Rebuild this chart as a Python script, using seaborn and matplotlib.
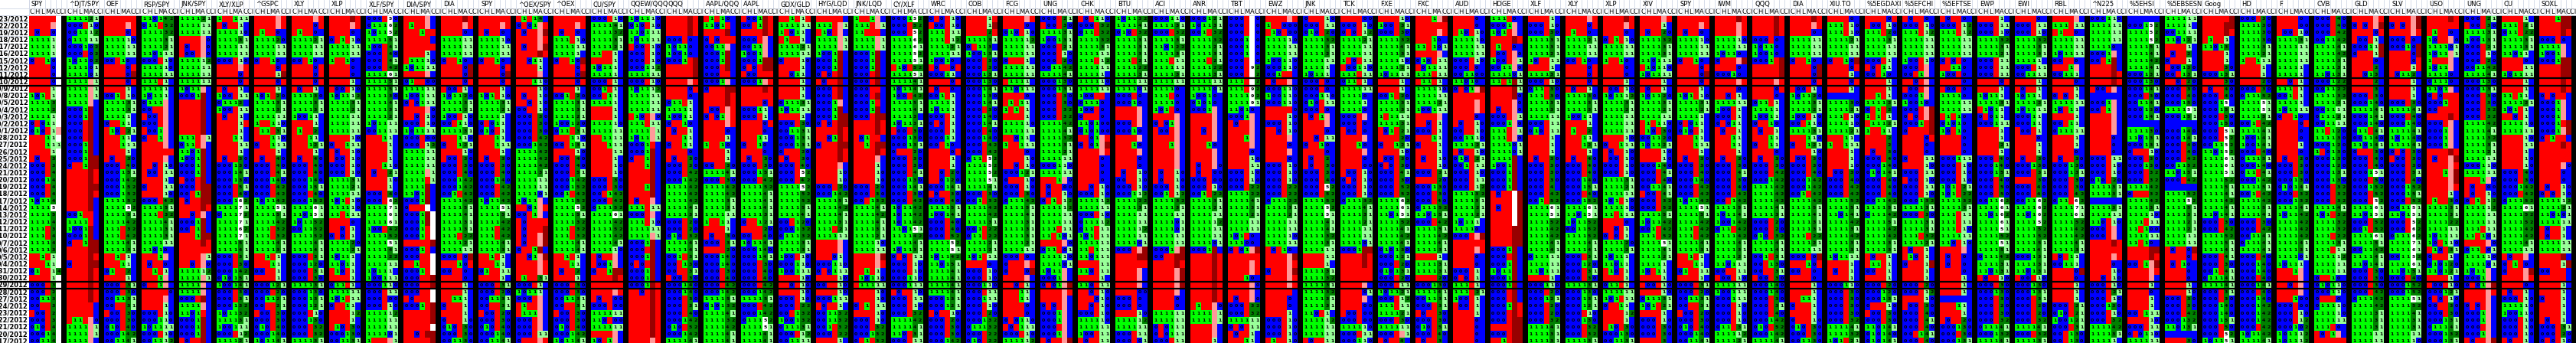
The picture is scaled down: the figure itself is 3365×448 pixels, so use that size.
import numpy as np
import matplotlib
matplotlib.use('Agg')
import matplotlib.pyplot as plt
import matplotlib.transforms as mtransforms
from matplotlib.colors import ListedColormap
import seaborn as sns

# --- dates (rows) ---
dates = ['10/23/2012', '10/22/2012', '10/19/2012', '10/18/2012', '10/17/2012', '10/16/2012',
         '10/15/2012', '10/12/2012', '10/11/2012', '10/10/2012', '10/9/2012', '10/8/2012',
         '10/5/2012', '10/4/2012', '10/3/2012', '10/2/2012', '10/1/2012', '9/28/2012',
         '9/27/2012', '9/26/2012', '9/25/2012', '9/24/2012', '9/21/2012', '9/20/2012',
         '9/19/2012', '9/18/2012', '9/17/2012', '9/14/2012', '9/13/2012', '9/12/2012',
         '9/11/2012', '9/10/2012', '9/7/2012', '9/6/2012', '9/5/2012', '9/4/2012',
         '8/31/2012', '8/30/2012', '8/29/2012', '8/28/2012', '8/27/2012', '8/24/2012',
         '8/23/2012', '8/22/2012', '8/21/2012', '8/20/2012', '8/17/2012']

tickers = ['SPY', '^DJT/SPY', 'OEF', 'RSP/SPY', 'JNK/SPY', 'XLY/XLP', '^GSPC', 'XLY', 'XLP',
           'XLF/SPY', 'DIA/SPY', 'DIA', 'SPY', '^OEX/SPY', '^OEX', 'CU/SPY', 'QQEW/QQQ', 'QQQ',
           'AAPL/QQQ', 'AAPL', 'GDX/GLD', 'HYG/LQD', 'JNK/LQD', 'CY/XLF', 'WRC', 'COB', 'FCG',
           'UNG', 'CHK', 'BTU', 'ACI', 'ANR', 'TBT', 'EWZ', 'JNK', 'TCK', 'FXE', 'FXC', 'AUD',
           'HDGE', 'XLF', 'XLY', 'XLP', 'XIV', 'SPY', 'IWM', 'QQQ', 'DIA', 'XIU.TO', '%5EGDAXI',
           '%5EFCHI', '%5EFTSE', 'EWP', 'EWI', 'RBL', '^N225', '%5EHSI', '%5EBSESN', 'Goog', 'HD',
           'F', 'CVB', 'GLD', 'SLV', 'USO', 'UNG', 'CU', 'SOXL']

sub_cols = ['C', 'H', 'L', 'M', 'A', 'CCI']

# cell codes per row: C H L M A CCI
# 1 = up (green), 0 = blue, x = red, p = pink, r = dark red, w = white, b = blue (no text)
# 2-9 = dark green count, F/S/V/N = highlighted 5/6/7/9
spy_a = """
xxxxxw xxxxpw x0xx0w 11111w 11111w 11111w 0xx10w xxxx0w xxxx0w xxxx0w
xxxx1w 101x1w 11113w 11112w 11111w 0x011w 010x1p xxx11w xxx111 xxxx1w
x0xx3w 000x3w 000x4w 00014w 000x4w 000x4w 10114w 1111Fw 11115w 11114w
111x3w 111x4w 11114w 11113w xx1x1w xxx11w 01xx14 xxxx1w 000x3w 000x2w
00113w 00xx3w x00x2w 000x3w 010x4w 00014w 00114w
"""
djt_spy = """
111121 000x10 001112 011111 000102 000x02 101102 111101 111101 1111p1
1111p1 1111p1 1111pb 0001rb 0001rb 000xrb 000xrb 000xrb 0001rb 0001rb
0001rr 0xx1rr xxxxrx xxxxrx xxxxrr xxxxrx xxxxrb xxxxrb 001xxb 1111xb
1001rb 0001rb 0xx1rr xxxxrr xxxxrx 0xxxrr xxxxrx xxxxrx xxxxrx xxxxrx
xxxxrx xxxxxb xxxxxb x11xp0 1111p1 1111p1 1111pb
"""
oef = """
xxxxxx xxxxpx xxxx0x 111110 111111 111111 00x10b xxxx0x xxxx0r xxxx0x
xxxx1b 001x10 111131 111131 11111b 0xx11b x10x21 xxx11b xxx111 xxxx1b
x0xx30 000x40 000151 000142 000152 000152 111152 1111F2 111151 111142
111x32 111x42 111141 111131 xx1x1b xxx11b 01xx2b xxxx1b 000x31 000x30
001131 00xx31 x00x30 000x30 010x40 000142 001141
"""
rsp_spy = """
110142 011x52 111132 111131 111121 110111 000x10 111110 111111 111x1b
11111b 10111b 0111pb 00xxpb x00xpb 000xpb x001pb 0xx1pb xxxxpb xxxxxx
xxxxpb xx0x10 x00x11 xxxx1b 0xxx11 xxxx10 000x42 111151 111x32 111141
111131 111131 111111 11010b xxx1pb x0xx0b xx1x1b xxx1pb 0xx1pb xxxxx0
xxxxpb xxxx1b 000x10 000110 101111 000x10 001112
"""
jnk_spy = """
111121 111111 111111 xxxxp0 x0xxp0 x00xp0 111112 111111 111111 111111
1011pb 0001rb xxxxrb xxxxrb xxxxrb xxxxrb xxxxrb 111xp1 011xpb 1101rb
1001rb 0001rb 0001rb x00xrb 000xrr 00x1rr x0xxrr xxxxrx xx0xpb 0001rb
00x1rb xxx1rr xxxxrx xxxxxx xxxxp1 xx0xp0 111112 1111p1 1111pb 1111pb
000xrb 1111pb 1101xb 0001rb 0001rb 0001rb x0xxrb
"""
xly_xlp = """
1xx111 x0xx1b 111110 111131 111111 111111 000x10 xxxxpx xxxx0x xxxx0x
x0xx1b 100x11 01112b 100x11 x0xx1b xxxx1x xxxx1b xxx11b xxxx11 xxxx1b
x0xx30 000130 000141 000130 000x51 000x40 0001S2 1111V1 0111V2 1111V1
1111S2 1111V1 111151 111141 000x31 000x30 000142 010151 100141 000x30
000x31 000132 101132 111131 100111 000x12 111121
"""
gspc = """
xxxxpx xxxxpx x1xx0b 111120 111111 111111 0xx10b xxxx0x xxxx1r xxxx0x
xxxx1b 101x20 111131 111131 111111 1xx110 x11x31 xxx110 0xx111 xxxx1b
x0xx40 000x40 000x41 000140 000x42 000x42 101142 1111F1 111151 111142
111x32 111x32 111141 111131 xx1x1b xxx11b 00xx1b xxxx1b 000121 000x20
001121 00xx21 x00x30 000x30 010x40 000140 101141
"""
xly = """
xxxxpx xxxx0x x1xx0b 111121 111111 111111 00x10b xxxx0x xxxx0x xxxx0x
x0xx1b 111130 111131 111131 10011b xxxx1b x1xx2b xxx11b xxx121 xxxx1b
x0xx40 000x40 000x40 000140 000151 000x40 000152 1111S1 1101F1 101152
001152 111152 111141 111141 000x31 000120 000x31 000x30 111131 000130
000131 000121 000x10 000130 000x32 000x32 111131
"""
xlp = """
xxxxrx xxxxpx xxxx0b 0x1x10 111111 111111 1xx10b xxxx0b xxxx0b xxxx1b
x00x10 101112 111131 111121 111111 111111 111111 xxxx10 0xx111 x0xx10
x00x10 000x10 000x10 111131 111121 111111 101x10 111110 11x111 xxxx0b
xx0x1b 0x0x1b 111120 111121 10111b 11011b x10x1b xxxx1b 011x1b 111111
101x11 0xx11b xxxx12 xxxx1b x10x30 000130 001131
"""
xlf_spy = """
000xF0 0111S2 1011F2 111151 100x41 000x40 000x41 000x42 1111S1 111151
111151 111130 111141 111131 111121 101111 001111 xxx11b xxxx1b xxxx1b
xxxx1b xxx110 x0xx21 xxxx10 xxxx1b 000x40 000xS2 1111V1 1111S1 1111S1
100x42 111152 1111F1 111141 111122 111111 10111b 100111 000110 000x11
000x00 000x10 111112 111111 111111 111101 1xxxp1
"""
dia_spy = """
xxxxpb x1xxpb xxx1xx xxxxxb xxxxxx xxxx1b x11110 101111 xxxxpb 01xx00
111111 100111 0x0111 xxxxp0 xx0x10 000x10 101111 000x00 000x12 111111
111111 111111 1111p1 1111x1 1111rb 1101rb 0001rb 0xxxwb 0001rw 0001rw
0001xw 0001xw xxxxxr 0001xb 000xxw xx1xxw 0001xw 000xxr 000xxr 000xxw
x0xxxw 0001xr xxxxxr xxxxxr xxxxxw xx0xrr xxxxxr
"""
dia = """
xxxxrx xxxxpx xxxx0b 111111 111111 111111 0xx10b xxxx0r xxxx0r xxxx0x
x00x1b 101120 111131 111121 100x10 00x110 111131 xxx110 0xx121 xxxx10
x00x30 000x30 000x40 000142 000142 001x42 111142 111151 111141 111131
111131 111x22 111121 111111 000x0r xxx10x 00xx0b xxxx0b xxxx1b xxxx1b
xx111b 0xxx1b xxxx1b 0xxx10 010x30 000x30 001130
"""
spy_b = """
xxxxxx xxxxpx x0xx0b 111110 111111 111111 0xx10b xxxx0x xxxx0r xxxx0x
xxxx1b 101x10 111131 111121 11111b 0x011b 010x1b xxx11b xxx111 xxxx1b
x0xx30 000x30 000x40 000140 000x42 000x42 101142 1111F1 111151 111142
111x42 111x42 111141 111131 xx1x1b xxx11b 01xx11 xxxx1b 000x31 000x20
001131 00xx31 x00x20 000x30 010x40 000140 001141
"""
oex_spy = """
x1x14b 0x01px x0xxpr xxxxpx x0xxpr xxxxrx xx011b xxxx1b xxxxpb xxx110
xxxx10 x0xx10 xx0x10 00xx10 000x30 000x30 000x30 000x42 000142 111142
111142 111142 111131 111111 111111 111101 1011pb xx01px 00x1pb x0xxxx
x0xxxr x0xxpr x0xxpr 0xx1rb xx01pr xxxxpx xxxxpx x1xx31 000x1b 10111b
000xpb x1xxpb x111pb 000xpb 000xpb 000x11 0xxxpx
"""
oex = """
xxxxxx xxxxpx x0xx0b 111x10 111111 11111b 0xx10r xxxx0x xxxx0r xxxx0x
xxxx1b 001x20 111131 111131 111121 100120 011x31 xxx110 00x131 xxxx10
x00x40 000x40 000x51 000142 000152 001x42 111152 1111F2 111151 111132
111x32 111x32 111141 111141 xx1x1b xxx11b x0xx2b xxxx1b 000x30 000x30
001131 00xx31 x00x30 000x30 010x40 000142 101141
"""
cu_spy = """
000x10 111141 111132 111131 111121 11xx1b xxxx1b 10111b 11111b 000x1b
001x1b 00x11b 11111b xxxx1b xxxx1b 111110 111111 xx1111 xxx111 xxxx11
xxxx1b xxxx10 xxxx10 000x30 000x30 00x142 000x42 011152 1111S1 111142
111152 111142 111141 111110 x0xxpb x001pb 0xx1rr xxxxrx xxxxxx xxxxpx
x0xx00 000x00 111111 110x00 111111 xxxxpb 10x1pb
"""
qqew_qqq = """
101110 010x10 110111 101111 x00x10 000x10 000x10 000112 111111 000x10
101112 111111 111111 111111 x10xp0 111x11 1111p1 1011p1 0001xb 0001rb
0xx1rb xxx1rb xxxxrb xxxxrb xxx1rb xxxxrb x0xxpb 111x11 000xpb 111x10
111111 1111p1 0001rb 000xrb 0001rb 0x0xrb 0001rb 0001rb 0001rx xx0xrx
xxxxrx xxxxrx xxxxrx xxxxrx xxxxrx xxxxrx xxxxpx
"""
qqq = """
xxxxrx xxxxrx xxxxrx 000x0b 10110b 10010b 0001xr xxxxxr xxxxxr xxxxpx
xxxx0x xxxx0b 011x1b 11111b 10011b 0xx10b x0xx1b xxx11b 0xx11b xxxx0b
x0xx30 000x30 000x42 000142 111142 111142 111142 111141 111131 000x20
000x20 010x32 111141 111141 001x31 00x130 00xx31 x00x30 000140 000140
000x30 000x31 000x40 000142 010x52 000142 111141
"""
aapl_qqq = """
x1x10b 1101xb xxxxrb 0x0xxx 0011pb 0001rb 0001rb 000xrb 000xxb 0001pb
0xxxrr xxxxrx xxxxrx x00xpx 0x01px xxxxpx xxxx0b xxxx1b 1xx10b xxxx1b
xxxx1b 00xx30 111141 000x30 111142 111142 111131 111131 111111 1xx11b
xxxx1b x0xx30 000x31 xxxx20 000140 000140 000x30 000x40 000x42 000142
111151 010132 111141 111132 111142 111141 111141
"""
aapl = """
x001rx 00x1rx xxxxrx 000xpb 0011pb 1001pb 0001rr 0x0xrr x00xxx 0001px
xxxxrx xxxxxx xxxx0x 00011b 000x1b xxxx0x xxxx0b xxx11b 0xx10b xxxx0b
x0xx30 000x30 000151 000x42 111152 111141 111141 111141 111131 0xx121
xxxx20 00xx40 101141 000140 000141 000x30 000x40 000x40 000x42 000142
111151 000x42 000142 0111F2 1111F1 111141 111141
"""
gdx_gld = """
xx1x1x 111111 1x011b x1xx1b 111121 111111 0xxx10 xxxx1b xx011b xxxx1b
xxxx1b xxxx1b 011131 101111 xxxx1b 000x30 001131 000131 000131 0xxx20
x0xx30 000x40 000xF2 000x42 1111F2 111152 111152 111151 111141 00x120
000132 011132 111131 111131 100x10 000110 100111 xxxx10 xx0x10 xxxx10
000x10 000x22 00x132 100132 011131 000x12 001111
"""
hyg_lqd = """
xxxxxb 111xp1 x10xpb 1111p1 1111p1 1001rb 0001rb 0001rb 0x0xrb x0xxrb
000xrb 000xrb 0001pb 0001rb 0001rr 0x0xrr xxxxrx xx01rx 0xxxrr xxxxrx
xxxxrx xxxxpb xxxx10 xxxx10 000x20 000142 111151 111142 111141 111131
111x21 111111 xxxxpb xxxxpb xxx01b 000110 0x0111 xxxx10 00xx10 xxxx10
000111 x0xx1b 001132 001132 001x32 000x22 xxxx1b
"""
jnk_lqd = """
1xx1pb 111xp1 11xxxb 1111p1 1111p1 0001rb 0001rb 0001rb 000xrb 000xrb
000xxb 000xrb 0001xb 0001rb 000xrr xxxxrx xxxxrx x01xxb xx1xrr xxxxrx
xxxxpb xxxx1b xxxx10 xxxx10 000x20 000x30 00x132 111141 111142 111141
111131 111121 111110 111111 xxxxpr xxxxpx xx1x1b x10110 x11111 xxxx10
xxxx10 0x1x11 xxxx10 000x10 000x32 000132 0x1x32
"""
cy_xlf = """
0001F2 000x52 000xF2 1111S2 1111S1 1111F2 1111F1 x10x52 1111F1 111141
101141 100x42 111151 111141 11113b 101131 x00x30 000130 000131 0xxx20
000x30 000x30 000x41 000130 000141 000x30 000x42 101142 101142 101142
1101F1 111142 111141 101131 0x0x11 000x10 000x10 000110 000111 x0xx10
000x11 000x10 000x32 111142 111141 110x31 000x11
"""
wrc = """
0x0x10 x00x10 111x11 111x12 111121 111111 10010b x0xx0x 00011b xxxx0x
x0xx0b 001x1b 11111b 10111b 000x1b 0x0x1b 000x1b 00011b 00x10b xxxx0x
xxxx1b xxxx1b xx0x20 xx0120 000141 x0xx30 000x40 111151 100141 000x40
000x40 000x52 1111F2 1111F1 101142 110151 111141 111141 111141 111141
000131 000121 x0xx10 000x20 000x30 000x30 000142
"""
cob = """
xxxx1x xxxx1r xxxx2x 111131 0x113b 100131 000x30 000x30 000131 000130
000141 000130 000141 000x30 000140 000141 000x40 000140 000x42 000x42
011xF2 1111F2 1111F2 1111F1 111141 000x30 001x32 111142 111142 111131
001x22 011x22 111121 111121 101x11 xxxx0b 000x10 000x10 000110 000x11
000111 000x10 000x20 000132 011132 000x22 010x22
"""
fcg = """
xxxxpx xxxx0b 010x10 111112 111111 111111 0xxx1b 111111 111111 x1111b
110111 xxxx0b x1x11b 1x1x1b xxxx1b 111110 111111 xx011b 1xx111 xxxx0b
xxxx10 xx0x10 000121 0xxx10 000x10 000x30 011142 111151 111141 111131
111131 111131 111121 111111 000x0b 0xxxpx 0xxx0r xxxxpb xx0x1b xxx11b
xxx11b xxxx0b xxxx0b 0x0110 x0x111 000x10 111112
"""
ung = """
000x21 x00x30 111131 100131 000x21 000x10 000x20 001142 111141 000130
000131 000x30 000x30 000x32 000x32 111142 111141 111132 111131 111121
111111 000110 111111 xxx1p0 x0xx00 x0xx10 0x1x12 111112 111111 111111
111x11 11x101 xxxxp0 011x01 111110 111101 1011pb 0001pb 0x01pr xxxxpx
xxxxpb 0x0xpb 0001pb 0001pb 000xpb 0001pb x0xxpr
"""
chk = """
x0x110 000x32 011x32 111132 111131 111111 111x12 111111 11111b 111110
111111 100xxb 01110b 100x0b 0xxx0b 110100 010100 xx01px 0x01pr xxxxpx
xxxx0b xxxx0b xxxx0b xxxx0b xx0x10 000x10 111112 111111 000x10 011112
011x11 101x11 111111 11x111 110111 xxxx11 110x11 xxxx1b 110x11 xx0x10
xxx010 xx0x10 000x10 111110 111111 100x11 x0xx11
"""
btu = """
101132 111141 010x32 111131 111131 111131 111x21 111122 111131 111111
111101 000x0b 00010b xxxxpb xxxxpb 000xpb 00010b xxxxpb xxx10b xxxxpb
xxxx0b xxxx0b x0xx10 00xx10 000x10 000112 111122 111131 111111 111111
111112 111111 111101 000xpr xxxxrr xxxxxx xxxxpb xxxxpb xxxxpb xxxx00
000x0b 000x0b xxxx10 111112 111111 000x11 000x01
"""
aci = """
000110 111131 000x32 111131 110122 111131 111x11 111111 111131 111111
11110b 111x0b 11110b 101x0b xxxxpb 0x01pb x00xpb xxxxpb xxx1pb xxxxpb
xxxxpb xxxxpb x0xx10 x0xx10 000x10 001x12 111132 111131 111111 111101
111101 111111 111111 0001pr 00xxrr xxxxrx xxxxpr xxxxpr xxxxpr xxxxpb
xxxx0b xxxx0b 111111 111111 0x0111 0x0111 000x11
"""
anr = """
000121 101131 001x32 111132 111121 111131 111x21 111122 111131 111111
111101 10010b 01010b 0001pb xxxxpb xxxxpb xx0xpb xxxxpb xxx10b xxxxpb
xxxxpb x0xxp0 x0xx00 000x00 000x10 001x22 111131 111121 111111 111112
111111 111111 111101 0001rb xxxxrx xxxxrx xxxxrx xxxxrx xxxxrx xxxxrx
xxxxrx x1xxp0 1111p1 1111p1 xxxxpb xxxxpb xxxx1b
"""
tbt = """
000xw0 000xw0 000xw0 0001w0 0001w0 0001w0 000xw0 000xN2 000xw2 111xw2
111xN2 1111N2 1111N1 11010b 0001pb x0xxpb xxxxpb xxx1pb xxxxpb xxxx0b
xxxx10 xxxx11 000x10 000x10 000x22 111122 111141 111131 111121 111111
111111 101x0b 11100b 0x01pr xxxxxx xxxxpx xxxxpx xxx10b xxxxp0 xxxxpb
x0xxp0 000x32 000x32 111111 0x0x11 x0xx1b xxx11b
"""
ewz = """
xxxxpx 1xx000 x10x00 111110 111111 111111 100110 000110 001xxb x0xxpb
000110 100110 000110 xxxxx0 xxxx10 000x10 xx0x10 xxxxpb xxxx0b xxxxpb
xxxx0b 000x10 000x10 000x10 000x22 000x22 011122 111131 111121 111111
111111 111110 111111 x0x10b xxxxpr xxxxpx 0xxxpr xxxxpx xxxxpx xxxxxb
xxxx0b xxxx0b xxxx1b 000x10 000x10 000x10 x1xx10
"""
jnk = """
0xxx10 000x11 010x20 111132 111131 111121 111111 11111b 10111b 000x0b
000x0b 000110 010x11 000x0b x0x1pb xxxxpb xxxx0b xx0x11 0xx10b xxxx0b
x0xx2b x0xx30 000x30 000x40 000xF2 000x52 111152 1111F2 1111F1 111141
111141 111132 111131 111111 xxxx11 xxxx1b 111131 111132 111131 111132
111131 111131 110x1b 111112 111111 111111 x0xx11
"""
tck = """
xxxx00 000x10 0x0x12 111121 111111 111111 1x0x11 x00110 111x11 011x1b
111111 11110b 11111b 11110b 000xpb 000x0b x00x0b xxxxpb xxx10b xxxxpb
xxxx0b xxxx00 x00x10 0x0x10 000x10 000x10 011132 111141 111131 111121
111111 111111 111101 0001rr xxxxrx xxxxrx xxxxxx xxxxxx xxxxpb xxxx01
xxxxpb xxxx00 x00x00 000x00 111110 000x11 000110
"""
fxe = """
xxxx10 100x31 000x30 111132 111141 111131 111110 111121 101111 xxxx1b
xxxx1b 001x20 111131 111131 1x1111 111131 x01x21 xxxx20 0xx121 xxxx10
x00x30 0x0x30 000x41 000x30 000x52 000x52 1111S2 1111S1 1101F1 111152
111141 111142 111141 010130 000121 000x20 010131 000x20 000x11 101121
000x12 111x11 111121 000x30 111111 000xp1 x0xx4b
"""
fxc = """
xxx1pr xxxxxx xxxxpx xxx10b 11x101 xxxxpb 010x11 x01111 111x11 x11x1b
111110 111111 111121 100111 xxxxpb xx0x1b 000x1b xxx11b 0xxx1b xxxx1b
x0xx10 xxxx10 000x31 xxxx20 000130 000x30 000x40 011152 110151 000x42
111151 111142 111141 111131 xxxx1b 111131 111131 xxxx20 000130 111141
001131 000x31 x0xx30 000x30 010x51 000x40 x0xx3b
"""
aud = """
xxxx0b xxxx0b x10x10 111110 111111 111111 000x10 000x0b 001100 11010b
0x01pr xxxxxx xxxxpx xxxxpx xxxx0b x0xx10 00xx10 001110 111121 x0xx10
010x21 001x11 000x10 000x11 000x12 111132 111131 111121 111121 10111b
11110b 000xpr xxxxxx xxxxpx xxxx0b xxxx0b 000x1b 0x0x1b 111x1b 111x21
100x1b x00x1b xxxx1b xxxx0b xxxx0b xxxx0b xxxx0b
"""
hdge = """
111x0b 0001pb 101xpb xxxxrx x1xx0b x00xp0 100xp1 0011p0 111101 11x1r1
xxxxr1 xxxxr0 xxxxp0 x0xxp0 000xp1 0001p0 111xp1 111xp0 111101 111101
1111rb 1001rb 0001rb 0001rb 0001rb x0xxwr xxxxwr x0xxwr xxxxwr xxxxwr
xxxxrr xxxxrr xxxxrr 0001rb 000xrb 0001rb 1011rb 0001rb 0001rb 000xrb
000xrb 0001rx 000xrx 000xrr xxxxrr 000xrr xx1xrr
"""
xlf = """
xxxx1b 000x10 000x30 111131 111131 111121 10xx11 xxxx1b 111131 000x10
011x30 111x30 111131 111131 111111 000x11 010x11 xxxx1b xxxx1b xxxx1b
x0xx30 000x30 000x30 000x30 000x4b 000x42 001x52 1111S1 1111F1 111152
111142 111142 111141 111141 011111 111111 110111 xxxx1b 000110 000x20
000121 000x20 000x20 000x32 111141 111131 111131
"""
xiv = """
xxxxpx xxxx1b x0xx20 111132 111131 111131 110111 x10110 101111 xxxx1b
x0xx1b 101120 111131 111121 111111 x1x110 x10x30 001120 101121 xxxx10
xxxx10 000140 000x41 000x40 001141 x00x41 000x32 000x52 111151 101142
001x42 111x52 1111F1 111141 111121 11111b 10x11b xxxx1b x00x10 xxxx10
011131 101x21 xxxx1b 000x10 000x30 000x30 xxxx3b
"""
iwm = """
xxxxrx xxxxpx xxxxpx 111110 111111 10110b 0xxxpr xxxx0b 00010b xxxxpx
xxxx0b xx0x1b 111111 100x1b 000x1b 0x011b x0xx1b xxx11b xxx11b xxxx1b
x0xx30 000x30 000x41 000x30 000x40 000x42 00x142 111151 101141 100142
011x42 111142 111141 111131 111121 110111 00xx11 x00x10 111111 100111
000111 000x10 000x10 000x10 011x31 111112 111121
"""
xiu_to = """
xxxx0b 111x10 111x10 111121 111111 111111 0xx10r xxxx0x xxxx1b xxxx0x
xxxx1b bbbbbb 111130 111121 111x10 111110 111121 xxx11b 1xx111 xxxx1b
xxxx1b xxxx10 x00x30 000x40 000x42 000x42 111152 111151 110141 111142
111131 111142 111131 111131 101111 xxxx1b x0xx1b xxxx1b 000110 000x30
000x30 000x30 000x30 000x32 111141 111132 101x21
"""
gdaxi = """
xxxx0x x00x10 111x20 111131 111111 111111 000x1b x0x11b 00x10b xxxx1b
xxxx1b xx1x1b 111121 0x1x2b 1x1x1b x11121 1xx11b xxxx2b xxxx2b x0xx30
000x40 000140 010141 000x40 000x40 000x40 001142 111151 011142 111151
111142 111142 111131 111131 x0xx1b x11x1b 00xx1b xxxx1b 000x20 000120
000131 0xxx10 x00x30 000x30 110141 010140 010141
"""
fchi = """
x0xx0b 000x10 111x12 111111 111111 111111 100x10 000xpb 00x1pb xx0xpb
x00xpb 0001pb 10010b 000xpr 0x0xpr 0001xr 0xxxxr xxxx0x xxxx0b xxxx0b
0xxx11 xxxx10 000x11 x00x10 000x11 000x10 000132 111131 000x30 111131
111131 111x32 111121 x0xx1b x10x1b 0xxx1r xxxx1b xxxx1b 000x20 000x12
xxxx10 x00x30 000x40 000x41 000x40 00x141 000x40
"""
ftse = """
x0xx0b 000x12 111x12 111111 111111 111111 0x0x0b xx110b 100x0b xxxx0b
x00x0b 11110b 111111 111111 x1x10b 01010b 10x10b xxxx0b xxxx0b xxxx0b
000111 000x10 000x10 000x10 101x21 101x22 111132 111131 111x11 111x11
111x10 111111 110x10 xxxxpb x0xx0b x0xx0b xxxx0b xxxx1b xxxx1b xxxx1b
bbbbbb xxx11b xxxx1b x0xx20 000130 000x30 000131
"""
ewp = """
xxxx1b 000x11 000x10 111132 111131 111121 000x11 000x11 000x11 xxxx0x
xxxx1b 10111b 111131 x1011b 0x011b 000111 xxxx1b xxxx1b xxxx21 xxxx1b
000x40 000140 000151 000x40 000x50 000x50 0011S2 1111S1 1101S2 1111S1
1111F1 111152 1111F1 111151 011142 111131 110131 x0xx10 000x30 000130
000x30 000x20 000x30 000x32 011141 000132 111141
"""
ewi = """
xxxx0b 000x11 000x10 111132 111131 111131 11111b 000x11 001111 xxxx1b
x0xx1b 10111b 111121 101111 00011b 00011b x00x1b xxxx0b xxxx1b xxxx1b
x0xx30 000130 000x31 xxxx30 000x40 000x40 0011S2 1111S2 1101S2 1111F2
111152 111152 111151 111141 000131 111131 110131 x00x10 000130 000131
000x31 000x20 000x20 000x32 111141 000x32 111131
"""
rbl = """
xxxxpb 111x11 x1xx0b 111111 111111 101111 00xx0b xxx1pb 00111b xxxx0b
xxxx1b 0x0x1b 111111 10x11b xxxx1b 00x11b 011111 xxxx1b xxxx1b xxxx0b
x0xx30 000130 000131 000x30 000x30 000x42 011xS2 1111V1 1111S1 111152
111142 111142 111141 111131 x0x11b 00111b xxxx0r xxxx0b xxxx1b xxxx1b
xxxx1b 000x21 010x21 100121 000x31 00x130 00x130
"""
n225 = """
000110 111111 111111 111111 11110b 0001pb 00x1rb xxxxrb xxxxrx xxxxrx
x00xpb bbbbbb 0001pb 00x1pb xxxxpb xxxxpb xxxxpb xxxx0b xxxx0b xxxx0b
000x11 000x10 000x10 010x20 111131 111131 bbbbbb 111131 111111 110x10
000xpb 000xpb xxxxrx xxxxxx xxxxpx xxxx0b xxxx10 xx0x10 000x10 000x21
000x10 000130 000x10 000x32 111142 111131 11111b
"""
hsi = """
bbbbbb 0001F2 1111F2 1111F2 111151 111141 111142 111141 000131 000130
000141 000x30 001141 000130 000141 bbbbbb 111130 110131 000131 0xxx10
000x30 000130 000x32 000x32 111142 0xxx32 111142 111131 111110 111x11
11x100 111111 11x10b xxxxrr xxxxrx 00x1pr xxxxpx xxxxpb xxxx1b xxxx0b
xxxx1b xxxx1b 00x111 xxxx10 000x11 0x0110 111111
"""
bsesn = """
111111 11111b 001111 110121 xxxx1b x0xx2b 0xxx1b x00130 00x131 xx0x20
000x30 000x40 000150 1111F1 000151 bbbbbb 000140 000141 000x40 000x40
000x42 001152 110151 000x42 bbbbbb 111152 1111F2 111151 111131 111121
111121 111111 111111 x0xx0r xxxx0x x0x10b xxxx0b xxxx0b xxxx1b xxxx10
000x30 000x30 000x42 000132 110131 bbbbbb xxxx30
"""
goog = """
xxxxxr xxxxrr xxxxrx x1xx1b 11013b xxxx1b xxxx1b xxxx30 000131 xxxx30
x0xx40 000x40 0001Fb 000151 000x50 000150 000xF1 000xF2 0011F2 1101F2
1111S1 1111S1 1111F1 111152 111151 111141 111142 111141 110141 000x30
000x42 111152 111151 111141 000x41 000x30 001x41 011141 111141 000x31
000x30 000140 000140 000151 000x50 000xF2 1011F1
"""
hd = """
000x30 111130 111130 111130 111131 111121 1xx111 xxxx1b xxxx1b xxxx20
000x30 011152 1111F1 1111F1 111151 001x42 111141 100141 100141 000x40
011151 000140 011x41 000142 111151 001x42 111142 111151 111141 000x30
000x42 001141 011141 111141 000x40 000140 000140 000x40 000141 000x40
000140 000142 000142 000142 000x42 101142 111141
"""
ford = """
xxxx0b xxxx00 x00x10 111131 111111 111111 111111 11111b 11111b xx0x1b
111x1b 001x1b 11111b 101111 0xx10b xxxx0x xxxx0b xxxx0b xxxx1b xxxx0b
x0xx20 000x30 000x30 000130 010141 000x32 000132 111141 101142 111142
111142 111142 111141 111131 111101 10111b xxx1pb xxxxpb xx0xpb xxxxpb
xxx100 000x00 000x10 000x12 000102 101112 101112
"""
cvb = """
000x40 000x40 000x42 001142 111141 111142 111131 111131 110131 000122
001122 111132 111121 001111 011121 001111 11x120 111130 000120 1x0130
000130 000120 000131 000130 000x32 000x32 000x32 111141 101x32 111132
111132 111x22 111131 111x11 111112 111111 111111 0xx10b 010110 000110
0xxx0b 011110 111110 111111 111x0b x0x1pb xxxxxx
"""
gld = """
xxxxpx 0x0xpr xxxx0x x00x1b 00011r 0xxx1r xxxx0b xxxx2b xx013b xxxx2b
xxxx3b 000x30 000140 111141 000141 000140 011x41 001140 110141 0xxx30
000x40 000x40 0001F1 000x50 000152 000x52 000xF2 1111S1 1101F1 000x52
001x52 1111S1 111151 001142 111141 110141 000x30 000x30 000x30 000x42
011142 111142 111131 111131 111131 111111 111111
"""
slv = """
xxxxpr 0x0xpr xxxxpx 000x0b 00010r xxxx0r xxxx0x xxxx1x x0112b xxxx1b
xxxx1b xxxx1b 000x30 111141 000x40 000140 111141 101140 111141 0x0x30
x00x30 000x30 000x51 000x40 000152 000151 000x52 0011F1 1101F1 000xF2
000xS2 0111S2 1111V1 1111S1 0011F2 1111S1 110151 000x40 000152 000152
1111F1 111152 111141 111131 111131 111111 111110
"""
uso = """
xxxxrx xxxxxx x1xx0b 10xxp0 111101 1011p1 1xxxpb 1011pb 11110b 01110b
1101pb 0x0xxx 0001xx 00xxxx xxxxrx 000xpb 0001pb 0001pb 0001pb xxxxrx
x0xxpr xxxxpx xxx1pr xxxxpr xxxxpx xxxx1b x1xx30 111131 111131 111122
111111 101111 10x110 x10x31 0xxx1b 010120 110121 xxxx1b x00x10 000121
0x0x10 00xx30 000x30 000131 011141 000132 000131
"""
cu = """
xxxx1b 111x21 011x22 111131 111131 11011b xxxx0b xxxx11 101111 xxxx1b
xxxx1b 11x11b 111121 101x1b xx0x1b 111110 111111 xxxx10 xxxx11 xxxx1b
xxxx10 xxxx10 000x40 000x30 000142 000x42 011152 1111S1 111152 111152
111142 111142 111141 111111 x0xxpb 0x1x0b 0xxxpr xxxxpx xxxx0b x0xx1b
000x10 111110 100110 000x10 000x10 000x10 x0xx1b
"""
soxl = """
xxx1rr xxxxrr xxxxrx 000x0b 1111pb 1001pb 0001rr xxxxrr xxxxrr xxxxrx
xxxxrx 0x0xxb 0001pb 0001pb 0001pb 0001xr 0001pr 0x1xxb xxxxrx xxxxxx
xxxxxx xxxxp0 xxxx0b xxxx0b x0xx10 0x0x10 111112 111121 110101 111111
x0xx1b x0xx1b 111111 111111 xxxxrb xxxx1r 00xxxb xxxxxb xxxx1b xxxx1b
0xxx1b xxxx1b xxxx1b x0xx1b 000x31 000x20 0x0x10
"""

group_data = [spy_a, djt_spy, oef, rsp_spy, jnk_spy, xly_xlp, gspc, xly, xlp, xlf_spy,
              dia_spy, dia, spy_b, oex_spy, oex, cu_spy, qqew_qqq, qqq, aapl_qqq, aapl,
              gdx_gld, hyg_lqd, jnk_lqd, cy_xlf, wrc, cob, fcg, ung, chk, btu, aci, anr,
              tbt, ewz, jnk, tck, fxe, fxc, aud, hdge, xlf, xly, xlp, xiv, spy_b, iwm,
              qqq, dia, xiu_to, gdaxi, fchi, ftse, ewp, ewi, rbl, n225, hsi, bsesn, goog,
              hd, ford, cvb, gld, slv, uso, ung, cu, soxl]

# --- colours ---
palette = ['#000000',  # 0 separator
           '#00FF00',  # 1 green
           '#0000FF',  # 2 blue
           '#FF0000',  # 3 red
           '#FF9999',  # 4 pink
           '#99FF99',  # 5 light green
           '#008000',  # 6 dark green
           '#990000',  # 7 dark red
           '#FFFFFF']  # 8 white
white_num = {'F': '5', 'S': '6', 'V': '7', 'N': '9'}
plain = {'x': 3, 'p': 4, 'r': 7, 'w': 8, 'b': 2}


def decode(ch, col):
    if ch in plain:
        return plain[ch], ''
    if ch == '0':
        return 2, '0'
    if ch in white_num:
        return 8, white_num[ch]
    if ch == '1':
        return (1 if col < 4 else 5), '1'
    return 6, ch


n_rows = len(dates)
n_groups = len(tickers)
n_cols = n_groups * 7
Z = np.zeros((n_rows, n_cols), dtype=int)
labels = np.full((n_rows, n_cols), '', dtype=object)

for g, block in enumerate(group_data):
    rows = block.split()
    if len(rows) != n_rows:
        print('row count mismatch', tickers[g], len(rows))
        rows = (rows + ['xxxxxx'] * n_rows)[:n_rows]
    for r, code in enumerate(rows):
        for c in range(6):
            v, t = decode(code[c], c)
            Z[r, g * 7 + c] = v
            labels[r, g * 7 + c] = t
        Z[r, g * 7 + 6] = 0

# --- figure ---
W, H = 3366, 448
LEFT = 38
TOP = 20
narrow = ['Liberation Sans Narrow', 'DejaVu Sans']

fig = plt.figure(figsize=(W / 100, H / 100), dpi=100)
fig.patch.set_facecolor('white')
ax = fig.add_axes([LEFT / W, 0, (W - LEFT) / W, (H - TOP) / H])

sns.heatmap(Z, cmap=ListedColormap(palette), vmin=-0.5, vmax=len(palette) - 0.5,
            cbar=False, annot=labels, fmt='', linewidths=0,
            annot_kws={'color': 'black', 'fontsize': 4.5, 'fontweight': 'bold',
                       'family': 'DejaVu Sans'},
            xticklabels=False, yticklabels=dates, ax=ax)

ax.set_ylim(46.75, 0)
ax.set_yticks(np.arange(n_rows) + 0.5)
ax.set_yticklabels(dates, rotation=0, fontsize=6, fontweight='bold', family=narrow)
ax.tick_params(axis='y', length=0, pad=1)
ax.tick_params(axis='x', length=0)

grid_col = '#D0D7E5'
fig_x_data_y = mtransforms.blended_transform_factory(fig.transFigure, ax.transData)
data_x_fig_y = mtransforms.blended_transform_factory(ax.transData, fig.transFigure)

# label column grid
for k in range(n_rows + 1):
    ax.plot([0, LEFT / W], [k, k], transform=fig_x_data_y, color=grid_col, lw=0.6,
            clip_on=False, zorder=0)

# header grid
y_top = 1.0
y_mid = 1 - 11 / H
y_bot = 1 - TOP / H
for j in range(n_cols + 1):
    ax.plot([j, j], [y_bot, y_top], transform=data_x_fig_y, color=grid_col, lw=0.6,
            clip_on=False)
for yy in (y_mid, y_bot):
    fig.add_artist(plt.Line2D([0, 1], [yy, yy], transform=fig.transFigure,
                              color=grid_col, lw=0.6))
fig.add_artist(plt.Line2D([LEFT / W, LEFT / W], [y_bot, y_top], transform=fig.transFigure,
                          color=grid_col, lw=0.6))

# header text
for g, name in enumerate(tickers):
    ax.text(g * 7 + 0.4, 1 - 5.8 / H, name, transform=data_x_fig_y, ha='left',
            va='center', fontsize=6, family=narrow, clip_on=False)
    for c, sc in enumerate(sub_cols):
        xc = g * 7 + c + 0.5 if sc != 'CCI' else g * 7 + 6.0
        ax.text(xc, 1 - 15.6 / H, sc, transform=data_x_fig_y, ha='center', va='center',
                fontsize=6, family=narrow, clip_on=False)

# thick lines around the highlighted days
for yk in (9, 10, 38, 39):
    ax.plot([0, 1], [yk, yk], transform=fig_x_data_y, color='black', lw=1.6,
            clip_on=False, zorder=5)

fig.savefig('out.png', dpi=100)
